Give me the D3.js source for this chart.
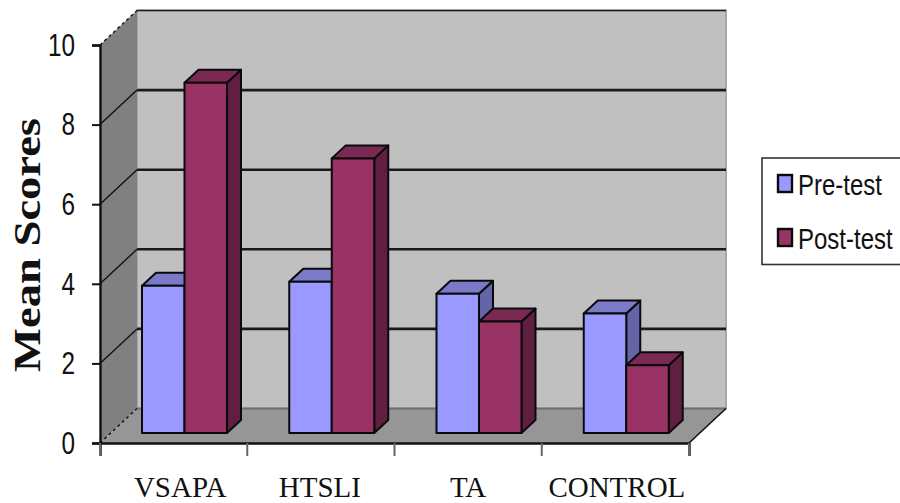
<!DOCTYPE html>
<html>
<head>
<meta charset="utf-8">
<script src="https://cdn.jsdelivr.net/npm/d3@7"></script>
<style>
html,body{margin:0;padding:0;background:#fff;overflow:hidden}
svg{display:block}
</style>
</head>
<body>
<svg id="chart" width="900" height="503"></svg>
<script>
// Chart values
const categories = ["VSAPA", "HTSLI", "TA", "CONTROL"];
const seriesNames = ["Pre-test", "Post-test"];
const preTest = [3.7, 3.8, 3.5, 3.0];
const postTest = [8.8, 6.9, 2.8, 1.7];
const yTicks = [0, 2, 4, 6, 8, 10];

const frontColors = ["#9999ff", "#993366"];
const topColors = ["#7a7ac8", "#7a2952"];
const sideColors = ["#6464a8", "#601f41"];

const svg = d3.select("#chart");
const x = d3.scaleBand().domain(categories).range([100, 689]);
const bar = d3.scaleBand().domain(seriesNames).range([42, 127]);
const y = d3.scaleLinear().domain([0, 10]).range([443, 45]);

// Depth offsets of the 3D box and of each column
const wallDx = 37, wallDy = -34.5;
const barLift = -10, barDx = 14, barDy = -13;
const line = d3.line();
const xLeft = x.range()[0], xRight = x.range()[1];

// Back wall, side wall and floor
svg.append("path").attr("fill", "#c0c0c0").attr("stroke", "#a8a8a8").attr("stroke-width", 2)
  .attr("d", line([[xLeft + wallDx, y(10) + wallDy], [xRight + wallDx, y(10) + wallDy],
                   [xRight + wallDx, y(0) + wallDy], [xLeft + wallDx, y(0) + wallDy]]) + "Z");
svg.append("path").attr("fill", "#808080")
  .attr("d", line([[xLeft, y(10)], [xLeft + wallDx, y(10) + wallDy],
                   [xLeft + wallDx, y(0) + wallDy], [xLeft, y(0)]]) + "Z");
svg.append("path").attr("fill", "#969696")
  .attr("d", line([[xLeft, y(0)], [xRight, y(0)],
                   [xRight + wallDx, y(0) + wallDy], [xLeft + wallDx, y(0) + wallDy]]) + "Z");

// Gridlines run along the back wall and down the side wall
yTicks.forEach(t => {
  const ends = t === 0 || t === 10;
  svg.append("path").attr("fill", "none").attr("stroke", "#111")
    .attr("stroke-width", 1.4)
    .attr("stroke-dasharray", ends ? "3,3" : null)
    .attr("d", line([[xLeft, y(t)], [xLeft + wallDx, y(t) + wallDy]]));
  if (t > 0) {
    svg.append("path").attr("fill", "none")
      .attr("stroke", "#1a1a1a")
      .attr("stroke-width", t === 10 ? 1.6 : 2.6)
      .attr("d", line([[xLeft + wallDx, y(t) + wallDy], [xRight + wallDx, y(t) + wallDy]]));
  }
});
svg.append("path").attr("fill", "none").attr("stroke", "#6e6e6e").attr("stroke-width", 2)
  .attr("d", line([[xLeft + wallDx, y(0) + wallDy], [xRight + wallDx, y(0) + wallDy]]));
svg.append("path").attr("fill", "none").attr("stroke", "#111").attr("stroke-width", 1.6)
  .attr("d", line([[xRight, y(0)], [xRight + wallDx, y(0) + wallDy]]));

// Columns: side and top faces first, then the front face
const rows = categories.map((c, i) => ({ c, values: [preTest[i], postTest[i]] }));
rows.forEach(row => {
  row.values.forEach((v, s) => {
    const g = svg.append("g").attr("stroke", "#0a0a0a").attr("stroke-width", 2)
      .attr("stroke-linejoin", "round");
    const x0 = x(row.c) + bar(seriesNames[s]);
    const x1 = x0 + bar.bandwidth();
    const yTop = y(v) + barLift;
    const yBase = y(0) + barLift;
    g.append("path").attr("fill", sideColors[s])
      .attr("d", line([[x1, yTop], [x1 + barDx, yTop + barDy], [x1 + barDx, yBase + barDy], [x1, yBase]]) + "Z");
    g.append("path").attr("fill", topColors[s])
      .attr("d", line([[x0, yTop], [x0 + barDx, yTop + barDy], [x1 + barDx, yTop + barDy], [x1, yTop]]) + "Z");
    g.append("rect").attr("fill", frontColors[s])
      .attr("x", x0).attr("y", yTop).attr("width", x1 - x0).attr("height", yBase - yTop);
  });
});

// Value axis
const yAxis = svg.append("g").attr("transform", `translate(${xLeft},0)`)
  .call(d3.axisLeft(y).tickValues(yTicks).tickSize(8).tickPadding(17));
yAxis.selectAll("path,line").attr("stroke", "#111").attr("stroke-width", 2);
yAxis.select(".domain").attr("stroke-width", 2.4);
yAxis.selectAll("text")
  .attr("font-family", "'Liberation Sans', Arial, sans-serif")
  .attr("font-size", 32).attr("fill", "#111")
  .attr("lengthAdjust", "spacingAndGlyphs")
  .attr("textLength", d => String(d).length * 13.5);

// Category axis
const xAxis = svg.append("g").attr("transform", `translate(0,${y(0)})`)
  .call(d3.axisBottom(x).tickSize(13).tickSizeOuter(13));
xAxis.selectAll(".tick").remove();
xAxis.select(".domain").attr("stroke", "#111").attr("stroke-width", 2.4);
const edges = categories.map(c => x(c)).concat(xRight);
svg.append("g").selectAll("line").data(edges).join("line")
  .attr("x1", d => d).attr("x2", d => d)
  .attr("y1", y(0)).attr("y2", y(0) + 13)
  .attr("stroke", "#666").attr("stroke-width", 2);

// Category names sit slightly off their band centres
const labelNudge = [6.5, -1, 0, 1.5];
svg.append("g").selectAll("text").data(categories).join("text")
  .attr("x", (d, i) => x(d) + x.bandwidth() / 2 + labelNudge[i])
  .attr("y", 496.5)
  .attr("text-anchor", "middle")
  .attr("font-family", "'Liberation Serif', 'Times New Roman', serif")
  .attr("font-size", 29).attr("fill", "#111")
  .text(d => d);

// Axis title
svg.append("text")
  .attr("transform", "translate(40,372) rotate(-90)")
  .attr("font-family", "'Liberation Serif', 'Times New Roman', serif")
  .attr("font-weight", "bold").attr("font-size", 38).attr("fill", "#111")
  .attr("lengthAdjust", "spacingAndGlyphs").attr("textLength", 254)
  .text("Mean Scores");

// Legend: the box runs off the right edge of the page
svg.append("rect").attr("x", 762).attr("y", 158).attr("width", 150).attr("height", 106.5)
  .attr("fill", "#fff").attr("stroke", "#333").attr("stroke-width", 1.6);
const legendY = [175, 229];
seriesNames.forEach((name, i) => {
  svg.append("rect").attr("x", 778).attr("y", legendY[i]).attr("width", 14).attr("height", 17)
    .attr("fill", frontColors[i]).attr("stroke", "#0a0a0a").attr("stroke-width", 2.4);
  // Narrow, tall lettering
  svg.append("text")
    .attr("transform", `translate(798,${legendY[i] + 20}) scale(1,1.2)`)
    .attr("font-family", "'Liberation Sans', Arial, sans-serif")
    .attr("font-size", 24).attr("fill", "#111")
    .text(name);
});
</script>
</body>
</html>
